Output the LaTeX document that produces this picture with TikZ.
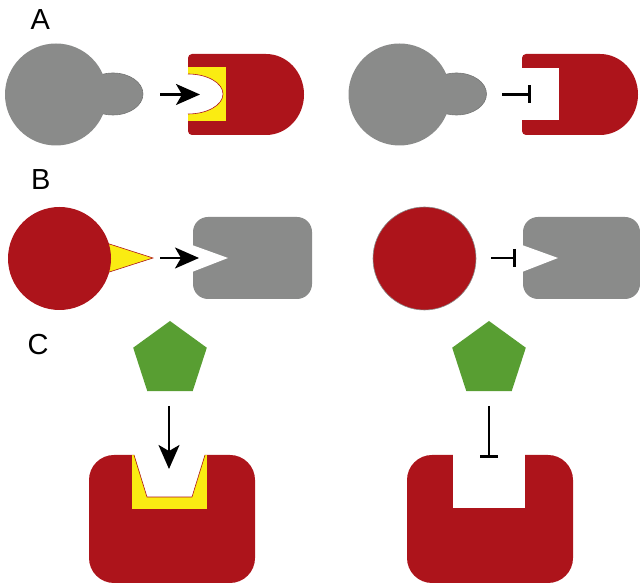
\documentclass[tikz,border=0pt]{standalone}
\usepackage{fontspec}
\setmainfont{Liberation Sans}
\usetikzlibrary{arrows.meta}
\definecolor{protred}{RGB}{173,20,27}
\definecolor{protgray}{RGB}{138,139,138}
\definecolor{sitegold}{RGB}{250,236,18}
\definecolor{ligandgreen}{RGB}{88,158,50}
\tikzset{
  panel/.style={font=\fontsize{29}{29}\selectfont, anchor=base west, inner sep=0pt},
  activate/.style={line width=2.2pt, -{Stealth[length=24pt, width=21pt, inset=6pt]}},
  inhibit/.style={line width=2.2pt, -{Bar[width=18pt, line width=2.6pt]}},
  knob/.style={fill=protgray, draw=protgray!85!black, line width=0.6pt},
  body/.style={fill=protgray},
  redbody/.style={fill=protred},
  pocket/.style={fill=sitegold},
  rim/.style={draw=protred, line width=0.6pt},
}
\begin{document}
\begin{tikzpicture}[x=1pt, y=1pt]
\useasboundingbox (0,0) rectangle (640,585);

% panel letters
\node[panel] (labA) at (30.5,555) {A};
\node[panel] (labB) at (31,395) {B};
\node[panel] (labC) at (27.5,230) {C};

% ---------- A: ligand with a knob, receptor with a curved pocket ----------
\fill[knob] (113,491) ellipse[x radius=30, y radius=21];
\fill[body] (56,490.5) circle[radius=51];
\coordinate (a1out) at (160,490.5);
\coordinate (a1in) at (200,490.5);

\fill[redbody] (304,490.5) arc[start angle=0, end angle=90, x radius=38, y radius=40.5]
  -- (192,531) arc[start angle=90, end angle=180, radius=4]
  -- (188,454) arc[start angle=180, end angle=270, radius=4]
  -- (266,450) arc[start angle=270, end angle=360, x radius=38, y radius=40.5] -- cycle;
\fill[pocket] (188,464) rectangle (226,518);
\fill[white] (188,511) arc[start angle=90, end angle=-90, x radius=35, y radius=20] -- cycle;
\draw[rim] (188,511) arc[start angle=90, end angle=-90, x radius=35, y radius=20];
\draw[activate] (a1out) -- (a1in);

% A, inhibited: square pocket does not fit
\fill[knob] (456.5,491) ellipse[x radius=30, y radius=21];
\fill[body] (399.5,490.5) circle[radius=51];
\coordinate (a2out) at (502,490.5);
\coordinate (a2in) at (531,490.5);

\fill[redbody] (638,490.5) arc[start angle=0, end angle=90, x radius=38, y radius=40.5]
  -- (526,531) arc[start angle=90, end angle=180, radius=4]
  -- (522,454) arc[start angle=180, end angle=270, radius=4]
  -- (600,450) arc[start angle=270, end angle=360, x radius=38, y radius=40.5] -- cycle;
\fill[white] (522,465) rectangle (559,517);
\draw[inhibit] (a2out) -- (a2in);

% ---------- B: spiked ligand, receptor with a V notch ----------
\filldraw[pocket, rim] (100,344) -- (153,327) -- (100,310) -- cycle;
\fill[redbody] (59.5,326.5) circle[radius=51.5];
\coordinate (b1out) at (160,327);
\coordinate (b1in) at (199,327);
\fill[body, rounded corners=15pt] (193,286) rectangle (312,368);
\fill[white] (192,340) -- (228,327) -- (192,313) -- cycle;
\draw[activate] (b1out) -- (b1in);

\filldraw[redbody, draw=protgray, line width=0.6pt] (424.5,326.5) circle[radius=51.5];
\coordinate (b2out) at (491,327);
\coordinate (b2in) at (516,327);
\fill[body, rounded corners=15pt] (523,286) rectangle (640,368);
\fill[white] (522,340) -- (558,327) -- (522,313) -- cycle;
\draw[inhibit] (b2out) -- (b2in);

% ---------- C: pentagon ligand above a cupped receptor ----------
\fill[ligandgreen] (170,225.3) ++(90:38.7) -- ++(-36:45.5) -- ++(-108:45.5) -- ++(-180:45.5) -- ++(108:45.5) -- cycle;
\coordinate (c1out) at (169,179);
\coordinate (c1in) at (169,116);
\fill[redbody, rounded corners=25pt] (89,2) rectangle (255,130);
\fill[pocket] (132,76) rectangle (207,130);
\fill[white] (134,131) -- (147,88) -- (192,88) -- (205,131) -- cycle;
\draw[rim] (134,130) -- (147,88) -- (192,88) -- (205,130);
\draw[activate] (c1out) -- (c1in);

\fill[ligandgreen] (489,225.3) ++(90:38.7) -- ++(-36:45.5) -- ++(-108:45.5) -- ++(-180:45.5) -- ++(108:45.5) -- cycle;
\coordinate (c2out) at (489,179);
\coordinate (c2in) at (489,127);
\fill[redbody, rounded corners=25pt] (407,2) rectangle (573,130);
\fill[white] (453,77) rectangle (525,131);
\draw[inhibit] (c2out) -- (c2in);
\end{tikzpicture}
\end{document}
